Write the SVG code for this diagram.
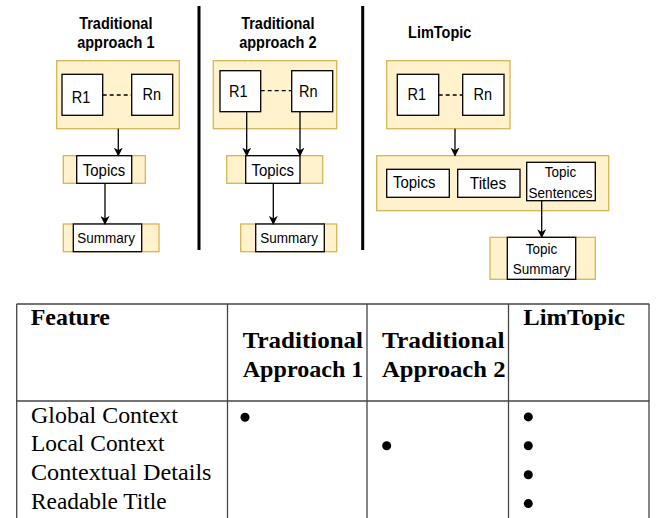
<svg xmlns="http://www.w3.org/2000/svg" width="657" height="518" viewBox="0 0 657 518">
<defs>
<style>
.bg{fill:#ffffff}
.y{fill:#fff2cc;stroke:#d6b656;stroke-width:1.3}
.w{fill:#ffffff;stroke:#000000;stroke-width:1.3}
.t{font-family:"Liberation Sans",Arial,sans-serif;fill:#000;text-anchor:middle}
.tb{font-family:"Liberation Sans",Arial,sans-serif;font-weight:bold;font-size:14.5px;fill:#000;text-anchor:middle}
.dash{stroke:#000;stroke-width:1.3;stroke-dasharray:4,3;fill:none}
.arr{stroke:#000;stroke-width:1.3;fill:none;marker-end:url(#ah)}
.sep{stroke:#000;stroke-width:3}
.tl{stroke:#444;stroke-width:1.3}
.s{font-family:"Liberation Serif","Times New Roman",serif;font-size:23px;fill:#000}
.sb{font-family:"Liberation Serif","Times New Roman",serif;font-size:23px;font-weight:bold;fill:#000}
</style>
<marker id="ah" viewBox="0 0 10 10" refX="9" refY="5" markerWidth="9" markerHeight="9" markerUnits="userSpaceOnUse" orient="auto">
<path d="M0,0 L10,5 L0,10 L3,5 Z" fill="#000"/>
</marker>
</defs>
<rect class="bg" x="0" y="0" width="657" height="518"/>

<g id="separators">
<line class="sep" x1="199" y1="6" x2="199" y2="250"/>
<line class="sep" x1="362.7" y1="6" x2="362.7" y2="250"/>
</g>

<g id="title1">
<text class="tb" transform="translate(115.8,29.3) scale(1,1.1)">Traditional</text>
<text class="tb" transform="translate(115.8,48.3) scale(1,1.1)">approach 1</text>
</g>
<g id="a1-readings">
<rect class="y" x="56.7" y="60.7" width="122.6" height="68"/>
<rect class="w" x="62" y="74.3" width="40.7" height="41"/>
<text class="t" transform="translate(81,103.3) scale(1,1.1)" font-size="14.5">R1</text>
<rect class="w" x="131.7" y="74.3" width="41" height="41"/>
<text class="t" transform="translate(151.7,100) scale(1,1.1)" font-size="14.5">Rn</text>
<line class="dash" x1="102.7" y1="95" x2="131.7" y2="95"/>
</g>
<g id="a1-topics">
<rect class="y" x="63.3" y="155.7" width="82" height="27.6"/>
<rect class="w" x="76.7" y="155.7" width="55" height="27.6"/>
<text class="t" transform="translate(104,175.5) scale(1,1.1)" font-size="15">Topics</text>
</g>
<g id="a1-summary">
<rect class="y" x="63.3" y="224" width="95.7" height="27.7"/>
<rect class="w" x="73.3" y="224" width="68.4" height="27.7"/>
<text class="t" transform="translate(106.2,243.2) scale(1,1.1)" font-size="13.5">Summary</text>
</g>

<g id="title2">
<text class="tb" transform="translate(277.8,29.3) scale(1,1.1)">Traditional</text>
<text class="tb" transform="translate(277.8,48.3) scale(1,1.1)">approach 2</text>
</g>
<g id="a2-readings">
<rect class="y" x="213.3" y="60.7" width="123.4" height="68"/>
<rect class="w" x="220" y="70.7" width="40.7" height="41"/>
<text class="t" transform="translate(238.3,96.7) scale(1,1.1)" font-size="14.5">R1</text>
<rect class="w" x="291.7" y="70.7" width="41" height="41"/>
<text class="t" transform="translate(308.3,96.7) scale(1,1.1)" font-size="14.5">Rn</text>
<line class="dash" x1="260.7" y1="90.7" x2="291.7" y2="90.7"/>
</g>
<g id="a2-topics">
<rect class="y" x="226.7" y="155.7" width="96" height="27.6"/>
<rect class="w" x="245.7" y="155.7" width="54.3" height="27.6"/>
<text class="t" transform="translate(272.7,175.5) scale(1,1.1)" font-size="15">Topics</text>
</g>
<g id="a2-summary">
<rect class="y" x="240.7" y="224" width="96" height="27.7"/>
<rect class="w" x="255.7" y="224" width="68.6" height="27.7"/>
<text class="t" transform="translate(289,243.2) scale(1,1.1)" font-size="13.5">Summary</text>
</g>

<g id="title3">
<text class="tb" transform="translate(439.7,38.3) scale(1,1.1)">LimTopic</text>
</g>
<g id="lt-readings">
<rect class="y" x="386.7" y="60.7" width="123.3" height="68"/>
<rect class="w" x="397.3" y="74.3" width="41.4" height="41"/>
<text class="t" transform="translate(416.7,100.3) scale(1,1.1)" font-size="14.5">R1</text>
<rect class="w" x="462.7" y="74.3" width="41.3" height="41"/>
<text class="t" transform="translate(482.7,100.3) scale(1,1.1)" font-size="14.5">Rn</text>
<line class="dash" x1="438.7" y1="95" x2="462.7" y2="95"/>
</g>
<g id="lt-outputs">
<rect class="y" x="376.7" y="155.7" width="232" height="55"/>
<rect class="w" x="386.7" y="169.3" width="62.6" height="28"/>
<text class="t" transform="translate(414.2,187.5) scale(1,1.1)" font-size="15">Topics</text>
<rect class="w" x="457.7" y="169.3" width="62.3" height="28"/>
<text class="t" transform="translate(488,188.5) scale(1,1.1)" font-size="15.5">Titles</text>
<rect class="w" x="526.7" y="162.3" width="68.6" height="38.4"/>
<text class="t" transform="translate(560.5,176.9) scale(1,1.1)" font-size="13.5">Topic</text>
<text class="t" transform="translate(560.5,197.5) scale(1,1.1)" font-size="13.5">Sentences</text>
</g>
<g id="lt-summary">
<rect class="y" x="490" y="237.3" width="105.3" height="42"/>
<rect class="w" x="507.3" y="237.3" width="68.4" height="42"/>
<text class="t" transform="translate(541.5,254.2) scale(1,1.1)" font-size="13.5">Topic</text>
<text class="t" transform="translate(541.5,273.5) scale(1,1.1)" font-size="13.5">Summary</text>
</g>

<g id="connectors">
<line class="arr" x1="118.3" y1="128.7" x2="118.3" y2="155.7"/>
<line class="arr" x1="105" y1="183.3" x2="105" y2="224"/>
<line class="arr" x1="246.7" y1="111.7" x2="246.7" y2="155.7"/>
<line class="arr" x1="300" y1="111.7" x2="300" y2="155.7"/>
<line class="arr" x1="273.3" y1="183.3" x2="273.3" y2="224"/>
<line class="arr" x1="455" y1="128.7" x2="455" y2="155.7"/>
<line class="arr" x1="541.7" y1="200.7" x2="541.7" y2="237.3"/>
</g>

<g id="table">
<line class="tl" x1="16.7" y1="304" x2="649.3" y2="304"/>
<line class="tl" x1="16.7" y1="401" x2="649.3" y2="401"/>
<line class="tl" x1="16.7" y1="304" x2="16.7" y2="518"/>
<line class="tl" x1="227.5" y1="304" x2="227.5" y2="518"/>
<line class="tl" x1="367" y1="304" x2="367" y2="518"/>
<line class="tl" x1="508.5" y1="304" x2="508.5" y2="518"/>
<line class="tl" x1="649" y1="304" x2="649" y2="518"/>
<text class="sb" x="30.7" y="325" textLength="79.3" lengthAdjust="spacingAndGlyphs">Feature</text>
<text class="sb" x="242.7" y="347.7" textLength="120.3" lengthAdjust="spacingAndGlyphs">Traditional</text>
<text class="sb" x="242.7" y="376.7" textLength="120.7" lengthAdjust="spacingAndGlyphs">Approach 1</text>
<text class="sb" x="382" y="347.7" textLength="122.5" lengthAdjust="spacingAndGlyphs">Traditional</text>
<text class="sb" x="382" y="376.7" textLength="123.5" lengthAdjust="spacingAndGlyphs">Approach 2</text>
<text class="sb" x="523.3" y="325" textLength="101.7" lengthAdjust="spacingAndGlyphs">LimTopic</text>
<text class="s" x="31" y="422.5" textLength="147" lengthAdjust="spacingAndGlyphs">Global Context</text>
<text class="s" x="31" y="451.2" textLength="133.5" lengthAdjust="spacingAndGlyphs">Local Context</text>
<text class="s" x="31" y="479.9" textLength="180.5" lengthAdjust="spacingAndGlyphs">Contextual Details</text>
<text class="s" x="31" y="508.6" textLength="135.5" lengthAdjust="spacingAndGlyphs">Readable Title</text>
<circle cx="245" cy="417.2" r="4.5"/>
<circle cx="386.7" cy="445.7" r="4.5"/>
<circle cx="528.3" cy="416.9" r="4.5"/>
<circle cx="528.3" cy="445.7" r="4.5"/>
<circle cx="528.3" cy="474.8" r="4.5"/>
<circle cx="528.3" cy="503.6" r="4.5"/>
</g>
</svg>
